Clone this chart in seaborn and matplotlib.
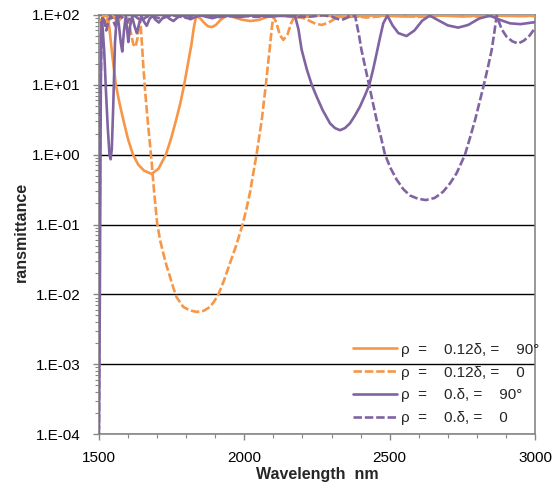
import numpy as np
import pandas as pd
import matplotlib
matplotlib.use("Agg")
import matplotlib.pyplot as plt
from matplotlib.ticker import FixedLocator, MultipleLocator, FuncFormatter, LogLocator, NullFormatter
import seaborn as sns

# ---------------- data ----------------
wl_o_solid = [1500, 1505, 1510, 1518, 1527, 1535, 1545, 1558, 1570, 1584, 1600, 1617, 1635, 1655,
              1681, 1705, 1730, 1748, 1765, 1780, 1793, 1805, 1818, 1826, 1834, 1848, 1862, 1875,
              1888, 1902, 1918, 1939, 1960, 1990, 2020, 2050, 2080, 2100, 2140, 2180, 2220, 2260,
              2300, 2350, 2400, 2450, 2500, 2550, 2600, 2650, 2700, 2750, 2800, 2850, 2900, 2950, 3000]
t_o_solid = [65, 75, 88, 97, 99, 70, 28, 10, 5.6, 3.1, 1.66, 1.0, 0.72, 0.59,
             0.53, 0.63, 1.0, 1.7, 3.1, 5.5, 10, 19, 38, 65, 96, 90, 77, 69,
             67, 72, 85, 98, 94, 86, 82, 85, 94, 99, 96, 92, 95, 99,
             97, 93, 96, 99, 97, 95, 97, 99, 97, 95, 98, 99, 97, 96, 98]

wl_o_dash = [1500, 1506, 1514, 1522, 1530, 1538, 1546, 1556, 1566, 1577, 1590, 1600, 1610, 1618,
             1626, 1633, 1638, 1642, 1646, 1652, 1658, 1664, 1670, 1676, 1682, 1688, 1694, 1700,
             1710, 1721, 1732, 1744, 1756, 1767, 1790, 1812, 1836, 1860, 1882, 1896, 1910, 1930,
             1950, 1972, 1994, 2006, 2019, 2030, 2042, 2051, 2060, 2067, 2074, 2081, 2088, 2094,
             2100, 2110, 2122, 2134, 2148, 2162, 2174, 2195, 2220, 2245, 2266, 2290, 2315, 2340,
             2380, 2420, 2460, 2500, 2550, 2600, 2650, 2700, 2750, 2800, 2850, 2900, 2950, 3000]
t_o_dash = [55, 80, 98, 88, 75, 90, 99, 88, 80, 92, 99, 85, 55, 38,
            35, 48, 75, 88, 50, 20, 8.9, 4.5, 2.4, 1.32, 0.71, 0.35, 0.19, 0.105,
            0.06, 0.039, 0.026, 0.018, 0.0123, 0.0091, 0.0066, 0.0059, 0.0056, 0.0058, 0.0066, 0.0079, 0.0098, 0.0158,
            0.0275, 0.05, 0.1, 0.158, 0.28, 0.52, 1.0, 1.78, 3.16, 5.6, 10, 19, 35, 63,
            95, 78, 52, 44, 52, 78, 97, 93, 84, 75, 72, 78, 90, 98,
            96, 92, 95, 99, 97, 94, 96, 99, 98, 95, 96, 99, 98, 96]

wl_p_solid = [1500, 1503, 1505, 1507, 1509, 1512, 1518, 1524, 1530, 1536, 1540, 1544, 1549, 1555,
              1561, 1568, 1575, 1580, 1586, 1592, 1597, 1601, 1607, 1614, 1622, 1630, 1638, 1646,
              1655, 1664, 1674, 1684, 1695, 1706, 1718, 1730, 1743, 1756, 1770, 1785, 1800, 1815,
              1832, 1850, 1870, 1890, 1910, 1932, 1955, 1980, 2005, 2030, 2060, 2090, 2120, 2150,
              2174, 2186, 2197, 2215, 2232, 2250, 2270, 2295, 2312, 2329, 2346, 2363, 2380, 2398,
              2414, 2430, 2443, 2455, 2467, 2478, 2492, 2510, 2530, 2558, 2585, 2612, 2638, 2665,
              2700, 2736, 2770, 2808, 2845, 2880, 2914, 2950, 3000]
t_p_solid = [0.00012, 0.01, 1, 30, 80, 70, 30, 8, 2.5, 1.0, 0.86, 1.2, 5, 40,
             95, 75, 40, 30, 60, 95, 60, 41, 70, 95, 70, 55, 75, 96,
             80, 70, 88, 97, 85, 78, 90, 98, 88, 82, 92, 99, 92, 87,
             94, 99, 94, 90, 95, 99, 96, 93, 96, 99, 97, 95, 97, 99,
             98, 63, 32, 16.6, 10, 6.6, 4.3, 2.8, 2.4, 2.24, 2.4, 2.8, 3.6, 4.9,
             6.9, 10, 16.6, 28, 48, 76, 98, 71, 55, 50, 60, 83, 98, 85,
             71, 66, 72, 89, 98, 85, 76, 74, 79]

wl_p_dash = [1500, 1502, 1504, 1506, 1509, 1512, 1518, 1525, 1532, 1540, 1548, 1556, 1565, 1575,
             1585, 1596, 1608, 1620, 1633, 1647, 1662, 1678, 1695, 1713, 1732, 1752, 1775, 1800,
             1825, 1850, 1880, 1910, 1940, 1970, 2005, 2040, 2075, 2110, 2150, 2190, 2230, 2270,
             2300, 2320, 2335, 2350, 2365, 2381, 2395, 2403, 2416, 2429, 2442, 2455, 2470, 2484,
             2504, 2524, 2547, 2570, 2597, 2624, 2655, 2684, 2708, 2730, 2745, 2759, 2777, 2794,
             2809, 2824, 2838, 2851, 2860, 2868, 2885, 2902, 2922, 2942, 2962, 2982, 3000]
t_p_dash = [0.0001, 0.05, 2, 12, 50, 95, 85, 60, 80, 97, 85, 70, 90, 98,
            85, 78, 92, 99, 90, 84, 93, 99, 93, 88, 94, 99, 95, 91,
            95, 99, 96, 93, 96, 99, 97, 94, 96, 99, 97, 94, 95, 99,
            95, 88, 85, 90, 97, 98, 50, 31.6, 17.8, 10, 5.6, 3.16, 1.78, 1.0,
            0.63, 0.44, 0.32, 0.26, 0.234, 0.224, 0.24, 0.295, 0.39, 0.54, 0.74, 1.0, 1.78, 3.16,
            5.6, 10, 17.8, 31.6, 56, 98, 63, 49, 42, 39, 43, 51, 65]

legend_labels = ["\u03c1  =    0.12\u03b4, =    90\u00b0",
                 "\u03c1  =    0.12\u03b4, =    0",
                 "\u03c1  =    0.\u03b4, =    90\u00b0",
                 "\u03c1  =    0.\u03b4, =    0"]
y_ticks = [1e-4, 1e-3, 1e-2, 1e-1, 1e0, 1e1, 1e2]
x_ticks = [1500, 2000, 2500, 3000]

# ---------------- style ----------------
sns.set_theme(style="white")
plt.rcParams["font.family"] = ["Liberation Sans", "DejaVu Sans"]

ORANGE = "#F79646"
PURPLE = "#8064A2"
GRAY = "#868686"
DASH = (0, (3.2, 1.1))

fig = plt.figure(figsize=(5.53, 4.83), dpi=100)
ax = fig.add_axes([99 / 553, 1 - 434 / 483, 436 / 553, 419 / 483])

series = [
    (wl_o_solid, t_o_solid, ORANGE, "-"),
    (wl_o_dash, t_o_dash, ORANGE, DASH),
    (wl_p_solid, t_p_solid, PURPLE, "-"),
    (wl_p_dash, t_p_dash, PURPLE, DASH),
]
for (wl, t, col, ls), lab in zip(series, legend_labels):
    df = pd.DataFrame({"wl": wl, "T": t})
    sns.lineplot(data=df, x="wl", y="T", ax=ax, color=col, linestyle=ls, lw=1.9,
                 label=lab, estimator=None, sort=False, zorder=3)

ax.set_yscale("log")
ax.set_ylim(1e-4, 1e2)
ax.set_xlim(1500, 3000)

ax.yaxis.set_major_locator(FixedLocator(y_ticks))
ax.yaxis.set_major_formatter(FuncFormatter(lambda v, p: "1.E%+03d" % int(round(np.log10(v)))))
ax.yaxis.set_minor_locator(LogLocator(base=10, subs=np.arange(2, 10)))
ax.yaxis.set_minor_formatter(NullFormatter())
ax.xaxis.set_major_locator(FixedLocator(x_ticks))
ax.xaxis.set_minor_locator(MultipleLocator(100))

ax.yaxis.grid(True, which="major", color="black", lw=1.0, zorder=1)
ax.xaxis.grid(False)
ax.set_axisbelow(True)

for s in ax.spines.values():
    s.set_color(GRAY)
    s.set_linewidth(1.2)
    s.set_visible(True)

ax.tick_params(axis="both", which="major", direction="out", length=4, width=1, color=GRAY,
               labelsize=11, labelcolor="black", left=True, bottom=True)
ax.tick_params(axis="both", which="minor", direction="out", length=3, width=0.8, color=GRAY,
               left=True, bottom=True)
ax.tick_params(axis="y", which="major", pad=9)
ax.tick_params(axis="x", which="major", pad=8)

ax.set_xlabel("Wavelength  nm", fontsize=11.5, fontweight="bold")
ax.set_ylabel("ransmittance", fontsize=11.5, fontweight="bold")
ax.xaxis.set_label_coords(0.5, -0.078)
ax.yaxis.set_label_coords(-0.16, 0.482)

handles, _ = ax.get_legend_handles_labels()
ax.legend(handles, legend_labels, loc="upper left", bbox_to_anchor=(0.5826, 0.218),
          frameon=False, fontsize=11, handlelength=2.9, handletextpad=0.26,
          labelspacing=0.58, borderpad=0, borderaxespad=0)

fig.savefig("out.png", dpi=100)
